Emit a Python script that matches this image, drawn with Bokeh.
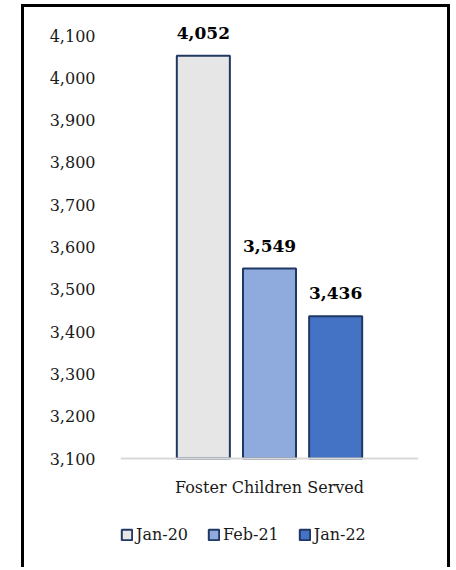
from bokeh.plotting import figure
from bokeh.models import (FactorRange, Range1d, NumeralTickFormatter, FixedTicker,
                          Legend, LegendItem, ColumnDataSource, Span)
from bokeh.transform import dodge
from bokeh.core.properties import value
from bokeh.embed import file_html
from bokeh.resources import INLINE

# ---- data ----
category = "Foster Children Served"
series = ["Jan-20", "Feb-21", "Jan-22"]
counts = [4052, 3549, 3436]
y_ticks = [3100, 3200, 3300, 3400, 3500, 3600, 3700, 3800, 3900, 4000, 4100]
colors = ["#E7E6E6", "#8FAADC", "#4472C4"]

FONT = "DejaVu Serif"
y_start, y_end = y_ticks[0], y_ticks[-1]

# layout (pixels): the value axis occupies 423 px starting 28 px below the top;
# the frame covers the whole canvas height so labels and legend are not clipped
W, H = 429, 563
top_px, axis_px = 28, 423
px_per_unit = axis_px / (y_end - y_start)
y_high = y_end + top_px / px_per_unit
y_low = y_end - (H - top_px) / px_per_unit

p = figure(x_range=FactorRange(factors=[category], range_padding=0),
           y_range=Range1d(y_low, y_high),
           width=W, height=H, title=None, x_axis_location=None,
           output_backend="svg", toolbar_location=None,
           min_border_left=96, min_border_right=35,
           min_border_top=0, min_border_bottom=0)

p.styles = {"border-left": "3px solid black", "border-top": "3px solid black",
            "border-right": "3px solid black"}
p.margin = (4, 0, 0, 21)

p.outline_line_color = None
p.xgrid.grid_line_color = None
p.ygrid.grid_line_color = None
p.background_fill_color = "white"
p.border_fill_color = "white"

bar_w = 0.178
step = 0.222
items = []
for i, (name, v, c) in enumerate(zip(series, counts, colors)):
    off = (i - (len(series) - 1) / 2) * step
    src = ColumnDataSource(dict(x=[category], top=[v], label=[f"{v:,}"]))
    r = p.vbar(x=dodge("x", off, range=p.x_range), top="top", bottom=y_start,
               width=bar_w, source=src, fill_color=c,
               line_color="#203864", line_width=2)
    p.text(x=dodge("x", off, range=p.x_range), y="top", text="label", source=src,
           text_font=value(FONT), text_font_size="17px", text_font_style="bold",
           text_color="#000000", text_align="center",
           text_baseline="middle", y_offset=-23)
    items.append(LegendItem(label=name, renderers=[r]))

# category baseline (horizontal axis line)
p.add_layout(Span(location=y_start, dimension="width", line_color="#D9D9D9",
                  line_width=2))

# category label under the baseline
cat_src = ColumnDataSource(dict(x=[category], y=[y_start], label=[category]))
p.text(x="x", y="y", text="label", source=cat_src,
       text_font=value(FONT), text_font_size="16px", text_color="#1a1a1a",
       text_align="center", text_baseline="middle", y_offset=29)

# y axis
p.yaxis.ticker = FixedTicker(ticks=y_ticks)
p.yaxis.formatter = NumeralTickFormatter(format="0,0")
p.yaxis.axis_line_color = None
p.yaxis.major_tick_line_color = None
p.yaxis.minor_tick_line_color = None
p.yaxis.major_tick_out = 0
p.yaxis.major_label_standoff = 25
p.yaxis.major_label_text_font = FONT
p.yaxis.major_label_text_font_size = "16px"
p.yaxis.major_label_text_color = "#1a1a1a"

legend = Legend(items=items, location=(0, 26), orientation="horizontal",
                glyph_width=13, glyph_height=13, label_standoff=3, spacing=19,
                padding=0, margin=0, border_line_alpha=0, background_fill_alpha=0,
                label_text_font=FONT, label_text_font_size="16px",
                label_text_color="#1a1a1a", label_height=13)
p.add_layout(legend)

open("out.html", "w").write(file_html(p, INLINE))
